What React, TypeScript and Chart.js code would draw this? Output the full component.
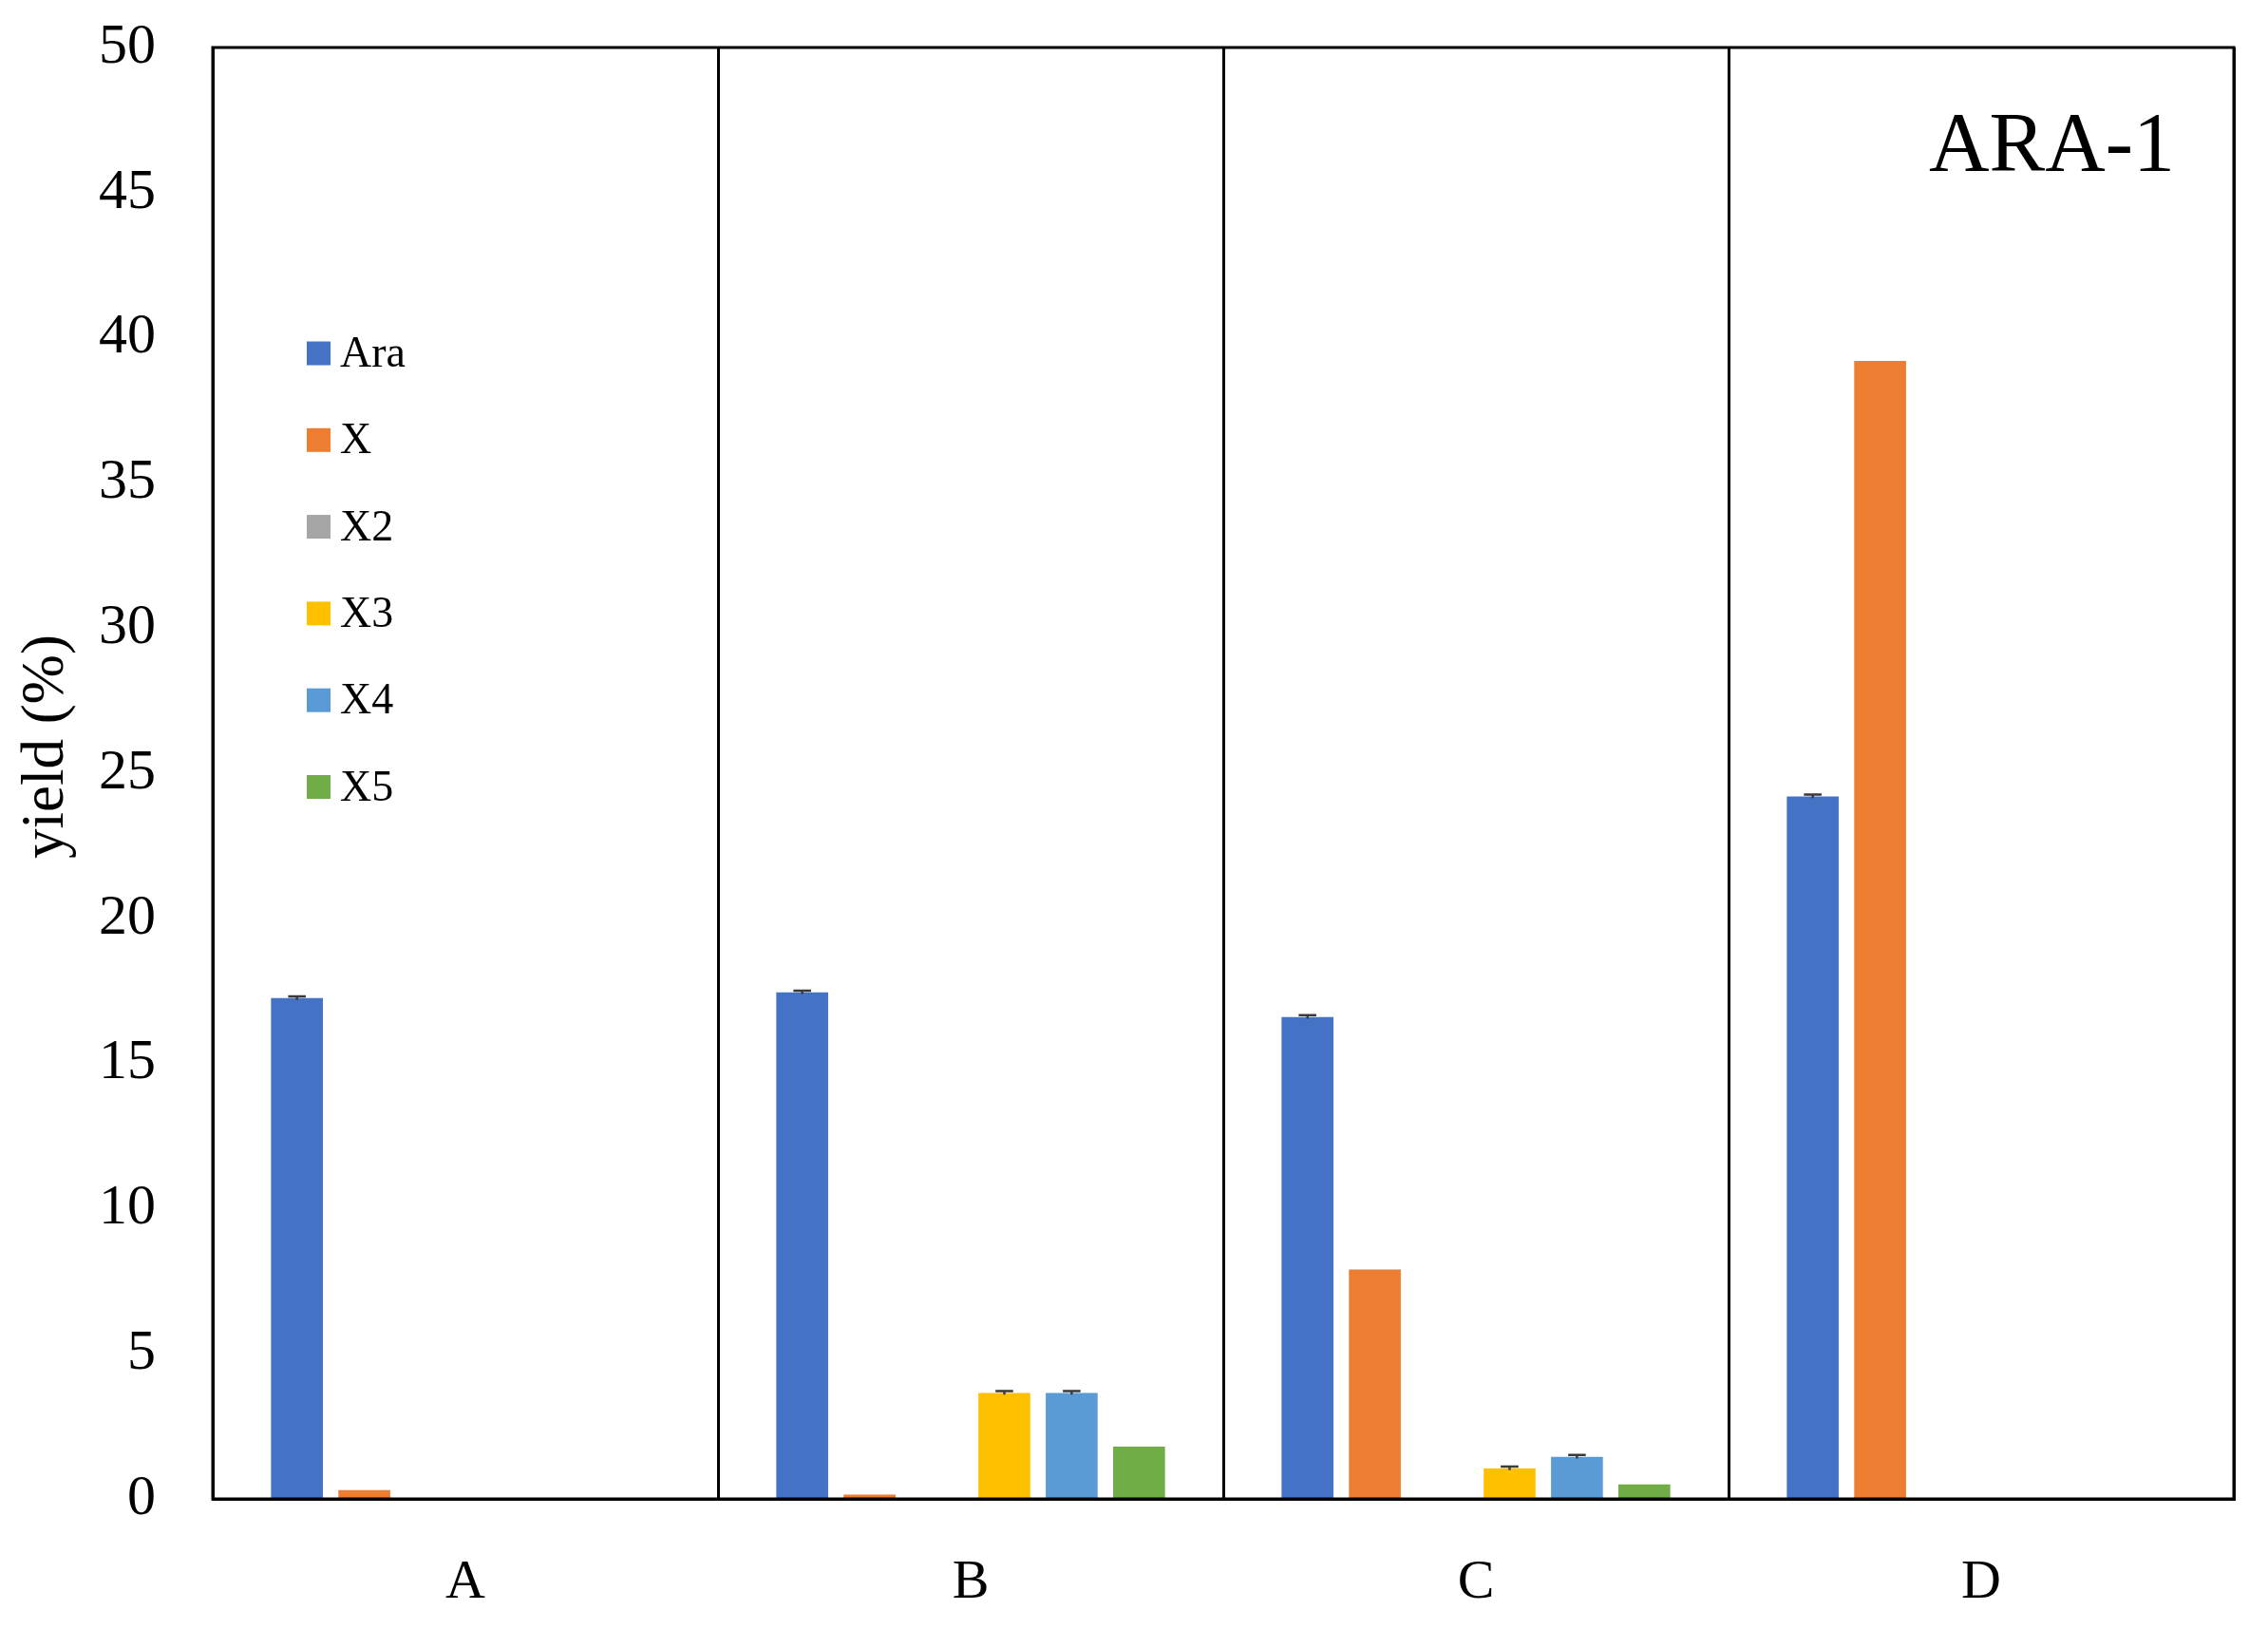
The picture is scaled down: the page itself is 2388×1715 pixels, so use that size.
import React, { useEffect, useRef } from 'react';
import { Chart, registerables } from 'chart.js';

Chart.register(...registerables);

const categories = ['A', 'B', 'C', 'D'];
const seriesNames = ['Ara', 'X', 'X2', 'X3', 'X4', 'X5'];
const seriesColors = ['#4472C4', '#ED7D31', '#A5A5A5', '#FFC000', '#5B9BD5', '#70AD47'];
const araValues = [17.25, 17.45, 16.6, 24.2];
const xValues = [0.3, 0.15, 7.9, 39.2];
const x2Values = [0, 0, 0, 0];
const x3Values = [0, 3.65, 1.05, 0];
const x4Values = [0, 3.65, 1.45, 0];
const x5Values = [0, 1.8, 0.5, 0];
const araErrors = [0.06, 0.06, 0.06, 0.06];
const xErrors = [0, 0, 0, 0];
const x2Errors = [0, 0, 0, 0];
const x3Errors = [0, 0.06, 0.06, 0];
const x4Errors = [0, 0.06, 0.06, 0];
const x5Errors = [0, 0, 0, 0];
const yMin = 0;
const yMax = 50;
const yStep = 5;
const yTitle = 'yield (%)';
const panelLabel = 'ARA-1';

const FONT = "'Liberation Serif', 'DejaVu Serif', serif";

const seriesValues = [araValues, xValues, x2Values, x3Values, x4Values, x5Values];
const seriesErrors = [araErrors, xErrors, x2Errors, x3Errors, x4Errors, x5Errors];

const frameAndExtras = {
  id: 'frameAndExtras',
  afterDatasetsDraw(chart: any) {
    const ctx = chart.ctx;
    const yScale = chart.scales.y;
    ctx.save();
    chart.data.datasets.forEach((ds: any, di: number) => {
      const meta = chart.getDatasetMeta(di);
      meta.data.forEach((el: any, i: number) => {
        const err = ds.errors ? ds.errors[i] : 0;
        const v = ds.data[i];
        if (!err || !v) return;
        const yTop = yScale.getPixelForValue(v + err);
        const yBot = yScale.getPixelForValue(v - err);
        const half = el.width * 0.17;
        ctx.strokeStyle = '#3a3a3a';
        ctx.lineWidth = 2.5;
        ctx.beginPath();
        ctx.moveTo(el.x, yBot);
        ctx.lineTo(el.x, yTop);
        ctx.moveTo(el.x - half, yTop);
        ctx.lineTo(el.x + half, yTop);
        ctx.stroke();
      });
    });
    ctx.restore();
  },
  afterDraw(chart: any) {
    const ctx = chart.ctx;
    const a = chart.chartArea;
    ctx.save();
    ctx.strokeStyle = '#000';
    ctx.lineWidth = 3;
    ctx.strokeRect(a.left, a.top, a.right - a.left, a.bottom - a.top);

    // legend inside plot
    const boxX = a.left + 99;
    const firstY = a.top + 322;
    const rowGap = 91.3;
    const box = 25;
    ctx.font = `46px ${FONT}`;
    ctx.textBaseline = 'middle';
    ctx.textAlign = 'left';
    chart.data.datasets.forEach((ds: any, i: number) => {
      const cy = firstY + i * rowGap;
      ctx.fillStyle = ds.backgroundColor;
      ctx.fillRect(boxX, cy - box / 2, box, box);
      ctx.fillStyle = '#000';
      ctx.fillText(ds.label, boxX + 35, cy + 2);
    });

    // panel label
    ctx.font = `88px ${FONT}`;
    ctx.textAlign = 'right';
    ctx.textBaseline = 'alphabetic';
    ctx.fillStyle = '#000';
    ctx.fillText(panelLabel, a.right - 62, a.top + 129);

    // y-axis title (positioned as in the reference, slightly above centre)
    ctx.translate(a.left - 175, (a.top + a.bottom) / 2 - 28);
    ctx.rotate(-Math.PI / 2);
    ctx.font = `63px ${FONT}`;
    ctx.textAlign = 'center';
    ctx.textBaseline = 'middle';
    ctx.fillText(yTitle, 0, 0);
    ctx.restore();
  },
};

export default function App() {
  const canvasRef = useRef<HTMLCanvasElement | null>(null);

  useEffect(() => {
    if (!canvasRef.current) return;
    const chart = new Chart(canvasRef.current, {
      type: 'bar',
      data: {
        labels: categories,
        datasets: seriesNames.map((name, i) => ({
          label: name,
          data: seriesValues[i],
          errors: seriesErrors[i],
          backgroundColor: seriesColors[i],
          borderWidth: 0,
          categoryPercentage: 0.8,
          barPercentage: 0.77,
        })) as any,
      },
      options: {
        animation: false,
        responsive: true,
        maintainAspectRatio: false,
        devicePixelRatio: 1,
        layout: { padding: { top: 50, right: 36, bottom: 0, left: 0 } },
        plugins: {
          legend: { display: false },
          tooltip: { enabled: false },
          title: { display: false },
        },
        scales: {
          x: {
            grid: { display: true, color: '#000', lineWidth: 3, drawTicks: false, offset: true },
            border: { display: true, color: '#000', width: 3 },
            ticks: { color: '#000', font: { family: FONT, size: 58 }, padding: 54 },
            afterFit: (s: any) => {
              s.height = 137;
              s.paddingLeft = 0;
              s.paddingRight = 0;
            },
          },
          y: {
            min: yMin,
            max: yMax,
            grid: { display: false, drawTicks: false },
            border: { display: true, color: '#000', width: 3 },
            ticks: { stepSize: yStep, color: '#000', font: { family: FONT, size: 60 }, padding: 60 },
            title: { display: false },
            afterFit: (s: any) => {
              s.width = 224;
              s.paddingTop = 0;
              s.paddingBottom = 0;
            },
          },
        },
      },
      plugins: [frameAndExtras],
    });
    return () => chart.destroy();
  }, []);

  return (
    <div style={{ position: 'fixed', left: 0, top: 0, width: 2388, height: 1715, background: '#fff' }}>
      <canvas ref={canvasRef} />
    </div>
  );
}
